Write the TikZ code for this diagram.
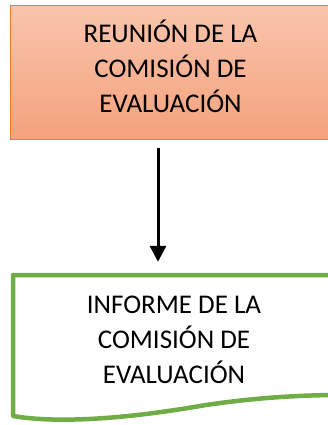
\documentclass[tikz,border=0pt]{standalone}
\usepackage{fontspec}
\setmainfont{Carlito}
\usetikzlibrary{positioning}
\usetikzlibrary{arrows.meta}
\definecolor{boxorange}{RGB}{237,125,49}
\definecolor{docgreen}{RGB}{112,173,71}

\begin{document}
\begin{tikzpicture}[x=1pt,y=-1pt,
			box/.style={rectangle, draw=boxorange, line width=1pt, top color={rgb,255:red,249;green,196;blue,172}, bottom color={rgb,255:red,244;green,162;blue,124}, minimum width=321pt, minimum height=133pt, inner sep=0pt, text depth=13pt, align=center, font=\fontsize{27}{35}\selectfont},
			doc/.style={rectangle, minimum width=322pt, minimum height=143pt, inner sep=0pt, text depth=13pt, align=center, font=\fontsize{27}{35}\selectfont},
			arrow/.style={-{Triangle[width=16pt,length=16pt]}, line width=3pt}
		]
			\useasboundingbox (0,0) rectangle (328,425);
			% Document shape
			\draw[docgreen, line width=4.5pt, fill=white, line join=round]
				(340,395) -- (340,275) -- (13,275) -- (13,416)
				.. controls (60,424) and (130,418) .. (200,406)
				.. controls (250,398) and (300,395) .. (340,395);

			% Boxes
			\node[box] (reunion) at (170.5,72.5) {REUNIÓN DE LA\\COMISIÓN DE\\EVALUACIÓN};
			\node[doc] (informe) at (174,346.5) {INFORME DE LA\\COMISIÓN DE\\EVALUACIÓN};

			% Arrows
			\draw[arrow] ([xshift=-12.5pt,yshift=-8pt]reunion.south) -- ([xshift=-16pt,yshift=13pt]informe.north);
		\end{tikzpicture}
\end{document}
